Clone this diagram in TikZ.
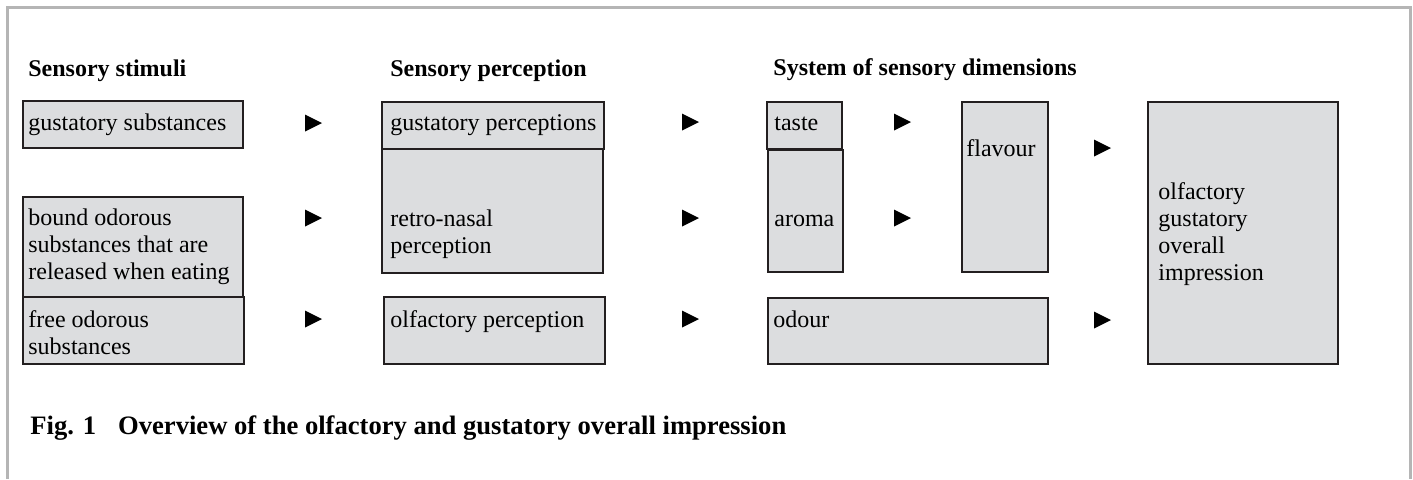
\documentclass[tikz,border=0pt]{standalone}
\usepackage{fontspec}
\setmainfont{Liberation Serif}
\usetikzlibrary{fit}
\definecolor{boxfill}{HTML}{DCDDDF}
\definecolor{boxline}{HTML}{231F20}
\definecolor{framegray}{HTML}{B5B5B5}
\newcommand\ml[1]{\begin{tabular}[t]{@{}l@{}}#1\end{tabular}}
\tikzset{
  box/.style={draw=boxline, fill=boxfill, line width=1.1pt, inner sep=0pt, rectangle},
  txt/.style={anchor=base west, inner sep=0pt, font=\fontsize{12}{13.5}\selectfont},
  hdr/.style={anchor=base west, inner sep=0pt, font=\fontsize{12}{13.5}\selectfont\bfseries},
  caption/.style={anchor=base west, inner sep=0pt, font=\fontsize{13.3}{15}\selectfont\bfseries},
  tri/.pic={\fill[black] (0,-8.5) -- (17,0) -- (0,8.5) -- cycle;}
}
\begin{document}
\begin{tikzpicture}[x=0.5pt,y=-0.5pt]
\useasboundingbox (0,0) rectangle (1413,479);
% frame
\draw[framegray, line width=1.5pt] (7,479) -- (7,7) -- (1410,7) -- (1410,479);
% headers
\node[hdr] (h1) at (28,76) {Sensory stimuli};
\node[hdr] (h2) at (390,76) {Sensory perception};
\node[hdr] (h3) at (773,75) {System of sensory dimensions};
% boxes
\node[box, fit={(23,101) (243,148)}] (gs) {};
\node[box, fit={(23,197) (243,297)}] (bo) {};
\node[box, fit={(23,297) (244,364)}] (fo) {};
\node[box, fit={(382,102) (604,149)}] (gp) {};
\node[box, fit={(382,149) (603,273)}] (rn) {};
\node[box, fit={(384,297) (605,364)}] (op) {};
\node[box, fit={(767,102) (842,149)}] (ta) {};
\node[box, fit={(768,150) (843,272)}] (ar) {};
\node[box, fit={(768,298) (1048,364)}] (od) {};
\node[box, fit={(962,102) (1048,272)}] (fl) {};
\node[box, fit={(1148,102) (1338,364)}] (ov) {};
% texts
\node[txt] (gs-t) at (28,130) {gustatory substances};
\node[txt] (bo-t) at (28,225) {\ml{bound odorous\\substances that are\\released when eating}};
\node[txt] (fo-t) at (28,327) {\ml{free odorous\\substances}};
\node[txt] (gp-t) at (390,130) {gustatory perceptions};
\node[txt] (rn-t) at (390,226) {\ml{retro-nasal\\perception}};
\node[txt] (op-t) at (390,327) {olfactory perception};
\node[txt] (ta-t) at (774,130) {taste};
\node[txt] (ar-t) at (774,226) {aroma};
\node[txt] (od-t) at (773,327) {odour};
\node[txt] (fl-t) at (966,156) {flavour};
\node[txt] (ov-t) at (1158,199) {\ml{olfactory\\gustatory\\overall\\impression}};
% arrow glyphs
\pic at (305,123) {tri};
\pic at (305,218) {tri};
\pic at (305,319) {tri};
\pic at (682,122) {tri};
\pic at (682,218) {tri};
\pic at (682,319) {tri};
\pic at (894,122) {tri};
\pic at (894,218) {tri};
\pic at (1094,148) {tri};
\pic at (1094,320) {tri};
% caption
\node[caption] (cap) at (30,434) {Fig. 1\hspace{11pt}Overview of the olfactory and gustatory overall impression};
\end{tikzpicture}
\end{document}
